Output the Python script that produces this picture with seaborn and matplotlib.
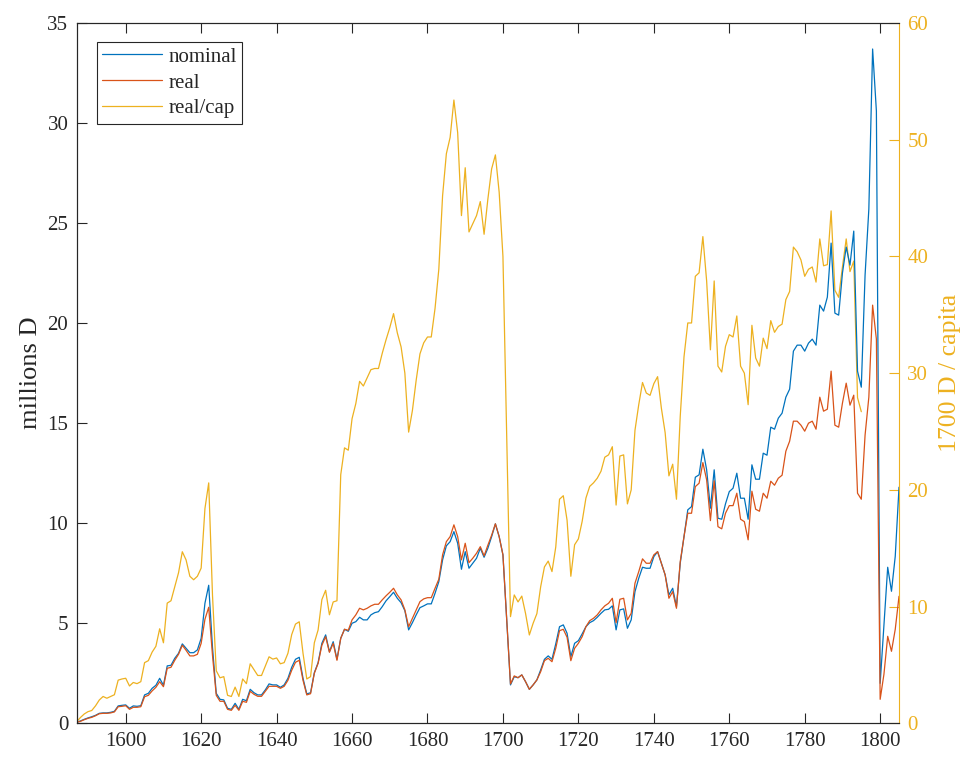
import numpy as np
import pandas as pd
import matplotlib
matplotlib.use("Agg")
import matplotlib.pyplot as plt
import seaborn as sns

# ---------------- data ----------------
years = list(range(1587, 1806))          # nominal & real
years_cap = list(range(1587, 1796))      # real per capita

nominal = [
    0.05, 0.12, 0.2, 0.27, 0.33, 0.4, 0.5, 0.52, 0.52, 0.55,          # 1587-1596
    0.6, 0.87, 0.9, 0.92, 0.75, 0.87, 0.85, 0.88, 1.42, 1.5,          # 1597-1606
    1.75, 1.9, 2.25, 1.9, 2.87, 2.9, 3.25, 3.5, 3.97, 3.75,           # 1607-1616
    3.53, 3.53, 3.67, 4.25, 6.0, 6.9, 3.8, 1.5, 1.2, 1.17,            # 1617-1626
    0.75, 0.7, 1.0, 0.7, 1.2, 1.13, 1.7, 1.53, 1.42, 1.42,            # 1627-1636
    1.67, 1.97, 1.92, 1.92, 1.8, 1.92, 2.25, 2.8, 3.2, 3.3,           # 1637-1646
    2.25, 1.47, 1.53, 2.53, 3.03, 4.0, 4.42, 3.58, 4.08, 3.2,         # 1647-1656
    4.25, 4.7, 4.6, 5.0, 5.08, 5.3, 5.17, 5.17, 5.42, 5.53,           # 1657-1666
    5.58, 5.83, 6.12, 6.33, 6.55, 6.25, 6.03, 5.63, 4.67, 5.03,       # 1667-1676
    5.42, 5.78, 5.87, 5.97, 5.97, 6.5, 7.08, 8.17, 8.87, 9.08,        # 1677-1686
    9.58, 9.0, 7.7, 8.58, 7.75, 8.0, 8.25, 8.75, 8.3, 8.75,           # 1687-1696
    9.33, 9.97, 9.33, 8.42, 5.17, 1.92, 2.33, 2.28, 2.42, 2.08,       # 1697-1706
    1.7, 1.92, 2.17, 2.67, 3.2, 3.37, 3.2, 3.97, 4.83, 4.92,          # 1707-1716
    4.5, 3.33, 4.0, 4.13, 4.47, 4.83, 5.03, 5.13, 5.3, 5.5,           # 1717-1726
    5.67, 5.7, 5.87, 4.67, 5.67, 5.72, 4.75, 5.17, 6.58, 7.25,        # 1727-1736
    7.8, 7.75, 7.75, 8.33, 8.58, 8.0, 7.42, 6.42, 6.75, 5.83,         # 1737-1746
    8.0, 9.33, 10.67, 10.83, 12.3, 12.42, 13.7, 12.67, 10.75, 12.67,  # 1747-1756
    10.25, 10.2, 10.97, 11.58, 11.75, 12.5, 11.25, 11.25, 10.2, 12.92, # 1757-1766
    12.2, 12.2, 13.5, 13.4, 14.8, 14.7, 15.25, 15.5, 16.3, 16.7,      # 1767-1776
    18.6, 18.9, 18.9, 18.6, 19.0, 19.2, 18.9, 20.9, 20.6, 21.3,       # 1777-1786
    24.0, 20.5, 20.4, 22.5, 23.8, 22.9, 24.6, 17.6, 16.8, 22.4,       # 1787-1796
    25.7, 33.7, 30.6, 2.0, 4.9, 7.8, 6.6, 8.35, 11.8,                 # 1797-1805
]

real = [
    0.05, 0.1, 0.18, 0.25, 0.3, 0.38, 0.48, 0.5, 0.5, 0.52,           # 1587-1596
    0.57, 0.83, 0.85, 0.88, 0.7, 0.8, 0.8, 0.83, 1.33, 1.4,           # 1597-1606
    1.62, 1.8, 2.08, 1.83, 2.75, 2.8, 3.15, 3.45, 3.9, 3.65,          # 1607-1616
    3.37, 3.37, 3.45, 4.0, 5.2, 5.8, 3.4, 1.4, 1.1, 1.1,              # 1617-1626
    0.7, 0.65, 0.9, 0.65, 1.1, 1.05, 1.6, 1.45, 1.35, 1.35,           # 1627-1636
    1.6, 1.85, 1.85, 1.85, 1.75, 1.85, 2.15, 2.65, 3.05, 3.15,        # 1637-1646
    2.15, 1.42, 1.48, 2.5, 3.0, 3.9, 4.33, 3.55, 4.0, 3.15,           # 1647-1656
    4.25, 4.7, 4.65, 5.17, 5.42, 5.75, 5.67, 5.75, 5.87, 5.95,        # 1657-1666
    5.95, 6.17, 6.37, 6.55, 6.75, 6.42, 6.17, 5.67, 4.83, 5.25,       # 1667-1676
    5.67, 6.08, 6.22, 6.28, 6.28, 6.75, 7.2, 8.42, 9.08, 9.33,        # 1677-1686
    9.92, 9.33, 8.17, 9.0, 8.03, 8.25, 8.5, 8.83, 8.37, 8.9,          # 1687-1696
    9.4, 9.97, 9.33, 8.42, 5.17, 1.97, 2.37, 2.28, 2.42, 2.08,        # 1697-1706
    1.7, 1.92, 2.17, 2.58, 3.13, 3.25, 3.08, 3.75, 4.63, 4.7,         # 1707-1716
    4.3, 3.13, 3.75, 4.0, 4.33, 4.83, 5.13, 5.25, 5.42, 5.67,         # 1717-1726
    5.87, 6.0, 6.25, 5.03, 6.2, 6.25, 5.17, 5.5, 7.0, 7.58,           # 1727-1736
    8.22, 8.0, 8.0, 8.42, 8.58, 8.0, 7.42, 6.25, 6.58, 5.75,          # 1737-1746
    8.08, 9.33, 10.5, 10.5, 11.83, 12.0, 13.03, 12.17, 10.13, 12.12,  # 1747-1756
    9.83, 9.72, 10.5, 10.88, 10.88, 11.5, 10.2, 10.08, 9.17, 11.6,    # 1757-1766
    10.7, 10.6, 11.5, 11.25, 12.1, 11.9, 12.25, 12.4, 13.6, 14.1,     # 1767-1776
    15.1, 15.1, 14.9, 14.6, 15.0, 15.1, 14.7, 16.3, 15.6, 15.7,       # 1777-1786
    17.6, 14.9, 14.8, 16.0, 17.0, 15.9, 16.4, 11.5, 11.2, 14.4,       # 1787-1796
    16.3, 20.9, 19.2, 1.2, 2.45, 4.35, 3.6, 4.7, 6.35,                # 1797-1805
]

real_cap = [
    0.14, 0.5, 0.8, 1.0, 1.1, 1.5, 2.0, 2.3, 2.15, 2.3,               # 1587-1596
    2.45, 3.7, 3.8, 3.86, 3.2, 3.5, 3.4, 3.57, 5.2, 5.37,             # 1597-1606
    6.1, 6.6, 8.1, 6.9, 10.3, 10.5, 11.7, 12.9, 14.7, 14.0,           # 1607-1616
    12.6, 12.3, 12.6, 13.3, 18.4, 20.6, 11.0, 4.5, 3.9, 4.0,          # 1617-1626
    2.4, 2.3, 3.1, 2.3, 3.8, 3.4, 5.1, 4.6, 4.1, 4.1,                 # 1627-1636
    4.9, 5.7, 5.5, 5.6, 5.1, 5.2, 6.0, 7.6, 8.5, 8.7,                 # 1637-1646
    6.0, 3.8, 4.0, 6.9, 8.0, 10.6, 11.4, 9.3, 10.4, 10.5,             # 1647-1656
    21.3, 23.6, 23.4, 26.1, 27.4, 29.3, 28.9, 29.6, 30.3, 30.4,       # 1657-1666
    30.4, 31.7, 32.85, 33.9, 35.1, 33.45, 32.25, 30.0, 24.95, 26.8,   # 1667-1676
    29.4, 31.65, 32.6, 33.1, 33.1, 35.55, 38.9, 45.2, 48.8, 50.2,     # 1677-1686
    53.4, 50.6, 43.5, 47.6, 42.1, 42.8, 43.5, 44.7, 41.9, 44.9,       # 1687-1696
    47.5, 48.7, 45.5, 40.0, 24.5, 9.14, 11.0, 10.4, 10.9, 9.4,        # 1697-1706
    7.57, 8.57, 9.4, 11.7, 13.4, 13.9, 13.0, 15.1, 19.2, 19.5,        # 1707-1716
    17.4, 12.6, 15.3, 15.8, 17.3, 19.3, 20.3, 20.6, 21.0, 21.6,       # 1717-1726
    22.8, 23.0, 23.7, 18.7, 22.9, 23.0, 18.8, 20.0, 25.1, 27.3,       # 1727-1736
    29.2, 28.3, 28.1, 29.1, 29.7, 27.0, 24.9, 21.2, 22.2, 19.2,       # 1737-1746
    26.3, 31.4, 34.3, 34.3, 38.3, 38.6, 41.7, 37.9, 32.0, 37.9,       # 1747-1756
    30.6, 30.1, 32.3, 33.3, 33.1, 34.9, 30.6, 30.0, 27.3, 34.1,       # 1757-1766
    31.3, 30.6, 33.0, 32.1, 34.5, 33.5, 34.0, 34.2, 36.3, 37.0,       # 1767-1776
    40.8, 40.4, 39.7, 38.3, 38.9, 39.1, 37.8, 41.5, 39.2, 39.3,       # 1777-1786
    43.9, 37.1, 36.5, 39.1, 41.5, 38.7, 39.6, 27.9, 26.7,             # 1787-1795
]

assert len(nominal) == len(years), (len(nominal), len(years))
assert len(real) == len(years), (len(real), len(years))
assert len(real_cap) == len(years_cap), (len(real_cap), len(years_cap))

x_ticks = list(range(1600, 1801, 20))
left_ticks = list(range(0, 36, 5))
right_ticks = list(range(0, 61, 10))

# ---------------- style ----------------
sns.set_theme(style="white")
plt.rcParams['font.family'] = ['Liberation Serif', 'DejaVu Serif']
plt.rcParams['mathtext.fontset'] = 'stix'

C_BLUE = "#0072BD"
C_ORANGE = "#D95319"
C_YELLOW = "#EDB120"
C_AX = "#262626"

fig = plt.figure(figsize=(9.67, 7.59), dpi=100)
ax = fig.add_axes([0.0793, 0.047, 0.8504, 0.9227])
ax2 = ax.twinx()

df = pd.DataFrame({"year": years, "nominal": nominal, "real": real})
dfc = pd.DataFrame({"year": years_cap, "real_cap": real_cap})

lw = 0.9
sns.lineplot(data=df, x="year", y="nominal", ax=ax, color=C_BLUE, lw=lw, label="nominal", legend=False)
sns.lineplot(data=df, x="year", y="real", ax=ax, color=C_ORANGE, lw=lw, label="real", legend=False)
sns.lineplot(data=dfc, x="year", y="real_cap", ax=ax2, color=C_YELLOW, lw=lw, label="real/cap", legend=False)

ax.set_xlim(1587, 1805)
ax.set_ylim(0, 35)
ax2.set_ylim(0, 60)
ax.set_xticks(x_ticks)
ax.set_yticks(left_ticks)
ax2.set_yticks(right_ticks)

ax.set_xlabel("")
ax.set_ylabel("millions D", fontsize=19, color=C_AX, labelpad=4)
ax2.set_ylabel("1700 D / capita", fontsize=18.5, color=C_YELLOW, labelpad=8)

ax.tick_params(axis='x', direction='in', length=7, width=0.8, colors=C_AX,
               labelsize=15, top=True, bottom=True, pad=6)
ax.tick_params(axis='y', direction='in', length=7, width=0.8, colors=C_AX,
               labelsize=15, left=True, right=False, pad=6)
ax2.tick_params(axis='y', direction='in', length=7, width=0.8, colors=C_YELLOW,
                labelsize=15, right=True, left=False, pad=6)

for a in (ax, ax2):
    a.grid(False)
    for s in a.spines.values():
        s.set_linewidth(0.8)
        s.set_color(C_AX)
ax2.spines['right'].set_color(C_YELLOW)
ax.spines['right'].set_visible(False)

h1, l1 = ax.get_legend_handles_labels()
h2, l2 = ax2.get_legend_handles_labels()
leg = ax.legend(h1 + h2, l1 + l2, loc='upper left', bbox_to_anchor=(0.0243, 0.973),
                borderaxespad=0, fontsize=15, frameon=True, fancybox=False,
                framealpha=1, edgecolor=C_AX, handlelength=2.9, handletextpad=0.3,
                labelspacing=0.3, borderpad=0.25)
leg.get_frame().set_linewidth(0.8)
ax.set_zorder(ax2.get_zorder() + 1)
ax.patch.set_visible(False)

fig.savefig("out.png", dpi=100)
